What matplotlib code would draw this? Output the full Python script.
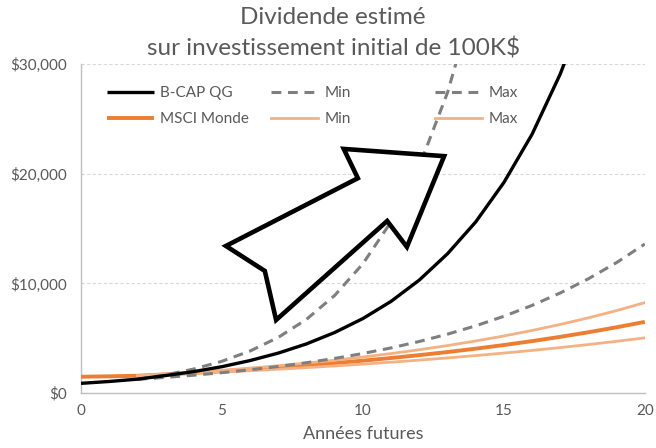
import numpy as np
import matplotlib
matplotlib.use("Agg")
import matplotlib.pyplot as plt
from matplotlib.patches import Polygon
from matplotlib.legend import Legend

nan = np.nan
years = list(range(0, 21))

bcap = [880, 1050, 1260, 1590, 1950, 2400, 2960, 3640, 4480, 5520, 6790,
        8360, 10300, 12700, 15600, 19200, 23600, 29100, 35800, 44000, 54200]
bcap_min = [nan, nan, 1245, 1422, 1624, 1854, 2117, 2418, 2762, 3154, 3602,
            4113, 4697, 5364, 6126, 6996, 7989, 9124, 10420, 11900, 13590]
bcap_max = [nan, nan, 1245, 1649, 2184, 2893, 3832, 5075, 6722, 8903, 11792,
            15619, 20687, 27400, 36292, 48070, 63670, 84330, 111700, 147950, 195960]
msci = [1480, 1520, 1570, 1699, 1838, 1989, 2152, 2328, 2519, 2726, 2949,
        3191, 3453, 3736, 4042, 4374, 4732, 5120, 5540, 5994, 6486]
msci_min = [nan, nan, 1570, 1675, 1787, 1906, 2033, 2169, 2314, 2469, 2634,
            2810, 2998, 3198, 3412, 3640, 3883, 4142, 4419, 4714, 5029]
msci_max = [nan, nan, 1570, 1722, 1888, 2070, 2269, 2488, 2729, 2992, 3281,
            3597, 3944, 4325, 4743, 5200, 5702, 6252, 6856, 7518, 8243]

title = "Dividende estimé\nsur investissement initial de 100K$"
xlabel = "Années futures"
xticks = [0, 5, 10, 15, 20]
yticks = [0, 10000, 20000, 30000]
ytick_labels = ["$0", "$10,000", "$20,000", "$30,000"]

plt.rcParams['font.family'] = ['Lato', 'DejaVu Sans']
txt = '#595959'
black = '#000000'
gray = '#7f7f7f'
orange = '#ED7D31'
lorange = '#F4B183'

fig = plt.figure(figsize=(6.56, 4.48), dpi=100)
ax = fig.add_axes([0.1235, 0.1228, 0.8595, 0.7342])

l_bcap, = ax.plot(years, bcap, color=black, lw=2.4, solid_capstyle='butt', zorder=5, label='B-CAP QG')
l_bmin, = ax.plot(years, bcap_min, color=gray, lw=2.2, dashes=(3.2, 2.2), zorder=4, label='Min')
l_bmax, = ax.plot(years, bcap_max, color=gray, lw=2.2, dashes=(3.2, 2.2), zorder=4, label='Max')
l_msci, = ax.plot(years, msci, color=orange, lw=2.8, solid_capstyle='butt', zorder=3, label='MSCI Monde')
l_mmin, = ax.plot(years, msci_min, color=lorange, lw=2.0, zorder=3.5, label='Min')
l_mmax, = ax.plot(years, msci_max, color=lorange, lw=2.0, zorder=3.5, label='Max')

ax.set_xlim(0, 20)
ax.set_ylim(0, 30000)
ax.set_xticks(xticks)
ax.set_xticklabels([str(v) for v in xticks])
ax.set_yticks(yticks)
ax.set_yticklabels(ytick_labels)
ax.tick_params(axis='both', length=0, labelsize=11, labelcolor=txt)
ax.tick_params(axis='x', pad=8)
ax.tick_params(axis='y', pad=10)
ax.grid(axis='y', color='#d9d9d9', lw=0.8, linestyle=(0, (3, 2)))
ax.set_axisbelow(True)
for s in ['top', 'right']:
    ax.spines[s].set_visible(False)
for s in ['left', 'bottom']:
    ax.spines[s].set_color('#bfbfbf')
    ax.spines[s].set_linewidth(1.0)

ax.set_xlabel(xlabel, fontsize=13, color=txt, labelpad=6)
fig.text(0.508, 0.926, title, fontsize=17.5, color=txt, ha='center', va='center',
         linespacing=1.55)

# arrow decoration (axes-fraction coordinates)
arrow_pts = [(0.257, 0.447), (0.326, 0.371), (0.346, 0.222), (0.543, 0.523),
             (0.578, 0.444), (0.644, 0.720), (0.466, 0.742), (0.491, 0.653)]
arrow = Polygon(arrow_pts, closed=True, transform=ax.transAxes, facecolor='white',
                edgecolor='black', lw=3.3, joinstyle='miter', zorder=6)
ax.add_patch(arrow)

# legend in three columns
groups = [([l_bcap, l_msci], 0.046), ([l_bmin, l_mmin], 0.337), ([l_bmax, l_mmax], 0.628)]
for handles, fx in groups:
    leg = Legend(ax, handles, [h.get_label() for h in handles],
                 loc='center left', bbox_to_anchor=(fx, 0.872), frameon=False,
                 fontsize=11, handlelength=3.1, handletextpad=0.4,
                 labelspacing=0.75, borderpad=0, borderaxespad=0)
    for t in leg.get_texts():
        t.set_color(txt)
    leg.set_zorder(7)
    ax.add_artist(leg)

fig.savefig('out.png', dpi=100)
